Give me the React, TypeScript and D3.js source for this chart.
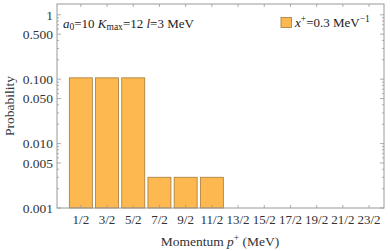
import * as d3 from "d3";
import React, { useEffect, useRef } from "react";

const categories = ["1/2", "3/2", "5/2", "7/2", "9/2", "11/2", "13/2", "15/2", "17/2", "19/2", "21/2", "23/2"];
const probability = [0.105, 0.105, 0.105, 0.003, 0.003, 0.003, 0, 0, 0, 0, 0, 0];
const yTicks = [1, 0.5, 0.1, 0.05, 0.01, 0.005, 0.001];
const yTickLabels = ["1", "0.500", "0.100", "0.050", "0.010", "0.005", "0.001"];

export default function App() {
  const ref = useRef<SVGSVGElement>(null);

  useEffect(() => {
    const width = 390;
    const height = 251;
    const left = 57;
    const right = 384;
    const top = 4;
    const bottom = 208;
    const frame = "#999";
    const font = "Liberation Serif";

    const svg = d3.select(ref.current);
    svg.selectAll("*").remove();
    svg.attr("width", width).attr("height", height);

    const x = d3.scaleLinear().domain([-0.91, 11.57]).range([left, right]);
    const y = d3.scaleLog().domain([0.001, 1.47]).range([bottom, top]);

    const minor: number[] = [];
    for (const dec of [0.001, 0.01, 0.1, 1]) {
      for (let k = 1; k <= 9; k++) {
        const v = dec * k;
        if (v <= 1.47) minor.push(v);
      }
    }

    const barW = 23;
    svg
      .append("g")
      .selectAll("rect")
      .data(probability.map((p, i) => ({ p, i })).filter((d) => d.p > 0))
      .join("rect")
      .attr("x", (d) => x(d.i) - barW / 2)
      .attr("y", (d) => y(d.p))
      .attr("width", barW)
      .attr("height", (d) => y(0.001) - y(d.p))
      .attr("fill", "#FDB94F")
      .attr("stroke", "#A47B3C")
      .attr("stroke-width", 0.8);

    svg
      .append("rect")
      .attr("x", left)
      .attr("y", top)
      .attr("width", right - left)
      .attr("height", bottom - top)
      .attr("fill", "none")
      .attr("stroke", frame)
      .attr("stroke-width", 1);

    const g = svg.append("g").attr("stroke", frame).attr("stroke-width", 0.8);
    for (const v of minor) {
      const major = yTicks.some((t) => Math.abs(t - v) / t < 1e-6);
      const len = major ? 4 : 2;
      g.append("line").attr("x1", left).attr("x2", left + len).attr("y1", y(v)).attr("y2", y(v));
      g.append("line").attr("x1", right).attr("x2", right - len).attr("y1", y(v)).attr("y2", y(v));
    }
    categories.forEach((_, i) => {
      g.append("line").attr("x1", x(i)).attr("x2", x(i)).attr("y1", bottom).attr("y2", bottom - 3);
      g.append("line").attr("x1", x(i)).attr("x2", x(i)).attr("y1", top).attr("y2", top + 3);
    });

    const txt = (sel: any) => sel.attr("font-family", font);

    svg
      .append("g")
      .selectAll("text")
      .data(yTicks)
      .join("text")
      .call(txt)
      .attr("x", left - 4)
      .attr("y", (d) => y(d))
      .attr("dy", "0.35em")
      .attr("text-anchor", "end")
      .attr("font-size", 13.5)
      .attr("fill", "#333")
      .text((d, i) => yTickLabels[i]);

    svg
      .append("g")
      .selectAll("text")
      .data(categories)
      .join("text")
      .call(txt)
      .attr("x", (d, i) => x(i))
      .attr("y", 224)
      .attr("text-anchor", "middle")
      .attr("font-size", 13)
      .attr("fill", "#333")
      .text((d) => d);

    const xt = svg
      .append("text")
      .call(txt)
      .attr("x", 220)
      .attr("y", 246)
      .attr("text-anchor", "middle")
      .attr("font-size", 13.5)
      .attr("fill", "#333");
    xt.append("tspan").text("Momentum ");
    xt.append("tspan").attr("font-style", "italic").text("p");
    xt.append("tspan").attr("font-size", 9.5).attr("dy", -5).text("+");
    xt.append("tspan").attr("dy", 5).text(" (MeV)");

    svg
      .append("text")
      .call(txt)
      .attr("transform", `translate(14,${(top + bottom) / 2}) rotate(-90)`)
      .attr("text-anchor", "middle")
      .attr("font-size", 13.5)
      .attr("fill", "#333")
      .text("Probability");

    const an = svg
      .append("text")
      .call(txt)
      .attr("x", 63)
      .attr("y", 28)
      .attr("font-size", 13)
      .attr("fill", "#222");
    an.append("tspan").attr("font-style", "italic").text("a");
    an.append("tspan").attr("font-size", 9.5).attr("dy", 2).text("0");
    an.append("tspan").attr("dy", -2).text("=10 ");
    an.append("tspan").attr("font-style", "italic").text("K");
    an.append("tspan").attr("font-size", 9.5).attr("dy", 2).text("max");
    an.append("tspan").attr("dy", -2).text("=12 ");
    an.append("tspan").attr("font-style", "italic").text("l");
    an.append("tspan").text("=3 MeV");

    svg
      .append("rect")
      .attr("x", 281)
      .attr("y", 17.5)
      .attr("width", 10.5)
      .attr("height", 10)
      .attr("fill", "#FDB94F")
      .attr("stroke", "#A47B3C")
      .attr("stroke-width", 0.8);
    const lg = svg
      .append("text")
      .call(txt)
      .attr("x", 295)
      .attr("y", 27)
      .attr("font-size", 13)
      .attr("fill", "#222");
    lg.append("tspan").attr("font-style", "italic").text("x");
    lg.append("tspan").attr("font-size", 9.5).attr("dy", -5).text("+");
    lg.append("tspan").attr("dy", 5).text("=0.3 MeV");
    lg.append("tspan").attr("font-size", 9.5).attr("dy", -5).text("−1");
  }, []);

  return (
    <div style={{ position: "absolute", left: 0, top: 0 }}>
      <svg ref={ref} style={{ display: "block" }} />
    </div>
  );
}
